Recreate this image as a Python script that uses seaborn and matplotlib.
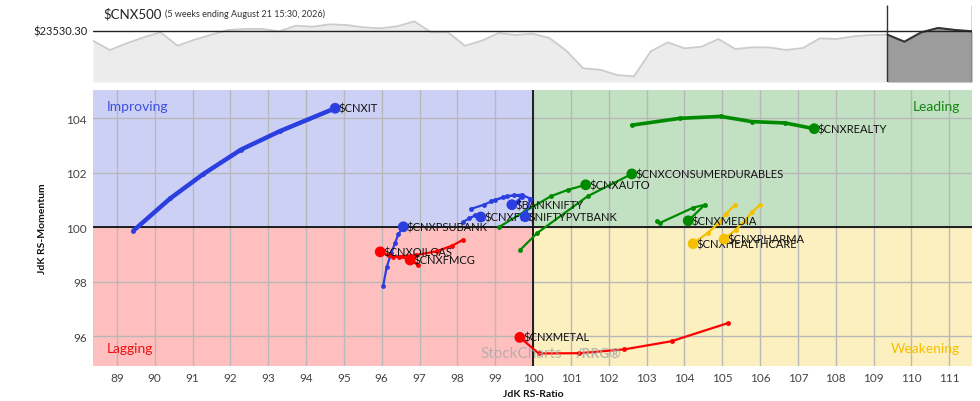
import numpy as np
import pandas as pd
import matplotlib
matplotlib.use("Agg")
import matplotlib.pyplot as plt
import seaborn as sns

# weekly closes of the benchmark (last 6 closes = the 5 week tail window)
cnx500_close = [23295, 23063, 23230, 23380, 23505, 23170, 23320, 23445, 23563, 23588,
                23592, 23528, 23670, 23645, 23705, 23688, 23630, 23605, 23655, 23780,
                23505, 23508, 23170, 23295, 23488, 23438, 23470, 23363, 23045, 22605,
                22570, 22438, 22405, 23030, 23255, 23105, 23145, 23338, 23088, 23130,
                23128, 23063, 23113, 23355, 23338, 23405, 23438, 23445, 23270, 23505,
                23613, 23563, 23530.30]
last_close = 23530.30
tail_weeks = 5

# RRG tails, oldest -> latest (JdK RS-Ratio, JdK RS-Momentum)
it_ratio = [89.44, 90.41, 91.29, 92.28, 93.31, 94.77]
it_mom = [99.88, 101.06, 101.96, 102.85, 103.53, 104.37]
realty_ratio = [102.61, 103.88, 104.96, 105.78, 106.66, 107.43]
realty_mom = [103.75, 104.00, 104.07, 103.88, 103.83, 103.62]
durables_ratio = [99.66, 100.10, 101.44, 102.61]
durables_mom = [99.17, 99.78, 101.14, 101.96]
auto_ratio = [99.11, 99.80, 100.47, 100.93, 101.39]
auto_mom = [100.02, 100.60, 101.14, 101.38, 101.56]
media_ratio = [103.28, 103.35, 104.23, 104.54, 104.10]
media_mom = [100.24, 100.16, 100.72, 100.83, 100.24]
health_ratio = [105.34, 105.10, 104.90, 104.62, 104.23]
health_mom = [100.83, 100.50, 100.15, 99.80, 99.40]
pharma_ratio = [106.00, 105.78, 105.60, 105.35, 105.05]
pharma_mom = [100.83, 100.55, 100.25, 99.90, 99.57]
banknifty_ratio = [98.90, 99.20, 99.50, 99.70, 99.60, 99.44]
banknifty_mom = [100.95, 101.10, 101.18, 101.12, 100.98, 100.83]
pvtbank_ratio = [98.35, 98.70, 99.00, 99.32, 99.70, 99.93, 99.79]
pvtbank_mom = [100.67, 100.83, 101.01, 101.14, 101.20, 101.05, 100.39]
fin_ratio = [98.15, 98.32, 98.47, 98.58, 98.62]
fin_mom = [100.20, 100.33, 100.44, 100.47, 100.38]
psubank_ratio = [96.04, 96.13, 96.25, 96.35, 96.44, 96.57]
psubank_mom = [97.86, 98.53, 99.05, 99.41, 99.75, 100.02]
oilgas_ratio = [98.16, 97.87, 97.45, 96.90, 96.30, 95.96]
oilgas_mom = [99.55, 99.33, 99.12, 98.98, 98.92, 99.10]
fmcg_ratio = [96.20, 96.45, 96.70, 96.97, 96.75]
fmcg_mom = [98.97, 98.90, 98.86, 98.62, 98.80]
metal_ratio = [105.14, 103.66, 102.41, 101.22, 100.15, 99.65]
metal_mom = [96.48, 95.82, 95.52, 95.38, 95.37, 95.96]

tails = [
    ("$CNXIT", it_ratio, it_mom),
    ("$CNXREALTY", realty_ratio, realty_mom),
    ("$CNXCONSUMERDURABLES", durables_ratio, durables_mom),
    ("$CNXAUTO", auto_ratio, auto_mom),
    ("$CNXMEDIA", media_ratio, media_mom),
    ("$CNXHEALTHCARE", health_ratio, health_mom),
    ("$CNXPHARMA", pharma_ratio, pharma_mom),
    ("$BANKNIFTY", banknifty_ratio, banknifty_mom),
    ("$NIFTYPVTBANK", pvtbank_ratio, pvtbank_mom),
    ("$CNXFIN", fin_ratio, fin_mom),
    ("$CNXPSUBANK", psubank_ratio, psubank_mom),
    ("$CNXOILGAS", oilgas_ratio, oilgas_mom),
    ("$CNXFMCG", fmcg_ratio, fmcg_mom),
    ("$CNXMETAL", metal_ratio, metal_mom),
]

# colours follow the quadrant the latest point sits in
BLUE, GREEN, RED, YELLOW = "#2b3fe0", "#008a00", "#ff0000", "#f5c000"


def quadrant_colour(x, y):
    if x >= 100:
        return GREEN if y >= 100 else YELLOW
    return BLUE if y >= 100 else RED


thick = {"$CNXIT": 3.2, "$CNXREALTY": 2.6}

rows = []
for name, r, m in tails:
    for i, (a, b) in enumerate(zip(r, m)):
        rows.append({"sector": name, "step": i, "ratio": a, "momentum": b})
df = pd.DataFrame(rows)

sns.set_theme(style="white")
plt.rcParams["font.family"] = ["Lato", "DejaVu Sans"]

fig = plt.figure(figsize=(9.8, 4.02), dpi=100)
ax_top = fig.add_axes([93 / 980, 1 - 83 / 402, 879 / 980, 77 / 402])
ax = fig.add_axes([93 / 980, 1 - 367 / 402, 879 / 980, 276 / 402])

# ---- benchmark strip
lo, hi = 22263, 24188
weeks = np.arange(len(cnx500_close))
ax_top.fill_between(weeks, cnx500_close, lo, color="#ececec", lw=0)
sns.lineplot(x=weeks, y=cnx500_close, ax=ax_top, color="#cccccc", lw=1.3)
tw = weeks[-(tail_weeks + 1):]
tc = cnx500_close[-(tail_weeks + 1):]
ax_top.fill_between(tw, tc, lo, color="#9c9c9c", lw=0)
sns.lineplot(x=tw, y=tc, ax=ax_top, color="#333333", lw=1.5)
ax_top.axhline(last_close, color="#222222", lw=1)
ax_top.vlines([tw[0], tw[-1]], lo, hi, color="#333333", lw=1)
ax_top.set_xlim(0, len(cnx500_close) - 1)
ax_top.set_ylim(lo, hi)
ax_top.axis("off")

fig.text(88 / 980, 1 - 32 / 402, f"${last_close:.2f}", ha="right", va="center",
         fontsize=8, color="#222222")
fig.text(103 / 980, 1 - 14 / 402, "$CNX500", ha="left", va="center", fontsize=9.5,
         color="#222222")
fig.text(165 / 980, 1 - 14.5 / 402, "(5 weeks ending August 21 15:30, 2026)", ha="left",
         va="center", fontsize=6.5, color="#333333")

# ---- RRG
x0, x1, y0, y1 = 88.37, 111.6, 94.91, 105.04
ax.fill_between([x0, 100], 100, y1, color="#ccd0f5", lw=0, zorder=0)
ax.fill_between([100, x1], 100, y1, color="#c2e0c2", lw=0, zorder=0)
ax.fill_between([x0, 100], y0, 100, color="#ffbfbf", lw=0, zorder=0)
ax.fill_between([100, x1], y0, 100, color="#fcefc0", lw=0, zorder=0)
ax.axvline(100, color="#111111", lw=1.3, zorder=1)
ax.axhline(100, color="#111111", lw=1.3, zorder=1)

for name, r, m in tails:
    c = quadrant_colour(r[-1], m[-1])
    part = df[df["sector"] == name]
    sns.lineplot(data=part, x="ratio", y="momentum", ax=ax, sort=False, estimator=None,
                 color=c, lw=thick.get(name, 1.6), marker="o", markersize=3.5,
                 markeredgewidth=0, zorder=3)
    sns.scatterplot(x=[r[-1]], y=[m[-1]], ax=ax, color=c, s=60, edgecolor="none",
                    zorder=5)
    ax.annotate(name, (r[-1], m[-1]), xytext=(2.5, 0), textcoords="offset points",
                ha="left", va="center", fontsize=8, color="#111111", zorder=4)

ax.set_xlim(x0, x1)
ax.set_ylim(y0, y1)
ax.set_xticks(range(89, 112))
ax.set_yticks([96, 98, 100, 102, 104])
ax.grid(True, color="#b8b8b8", lw=1)
ax.set_axisbelow(True)
ax.tick_params(length=0, labelsize=8.5, labelcolor="#444444", pad=4.5)
for s in ax.spines.values():
    s.set_visible(False)
ax.set_xlabel("")
ax.set_ylabel("")

# quadrant names
ax.text(0.016, 0.942, "Improving", transform=ax.transAxes, fontsize=10,
        color="#3b4fe0", ha="left", va="center")
ax.text(0.986, 0.942, "Leading", transform=ax.transAxes, fontsize=10, color="#118811",
        ha="right", va="center")
ax.text(0.016, 0.065, "Lagging", transform=ax.transAxes, fontsize=10, color="#ee1111",
        ha="left", va="center")
ax.text(0.986, 0.065, "Weakening", transform=ax.transAxes, fontsize=10, color="#f5c000",
        ha="right", va="center")

# watermark
fig.text(480 / 980, 1 - 354 / 402, "StockCharts", fontsize=11, color="#a8a8a8",
         ha="left", va="center", alpha=0.8)
fig.text(576 / 980, 1 - 354 / 402, "/RRG\u00ae", fontsize=10, color="#a8a8a8",
         fontweight="bold", ha="left", va="center", alpha=0.8)

fig.text(533 / 980, 1 - 395 / 402, "JdK RS-Ratio", ha="center", va="center",
         fontsize=7.5, fontweight="bold", color="#111111")
fig.text(42 / 980, 1 - 229 / 402, "JdK RS-Momentum", ha="center", va="center",
         rotation=90, fontsize=7.5, fontweight="bold", color="#111111")

fig.savefig("out.png", dpi=100)
